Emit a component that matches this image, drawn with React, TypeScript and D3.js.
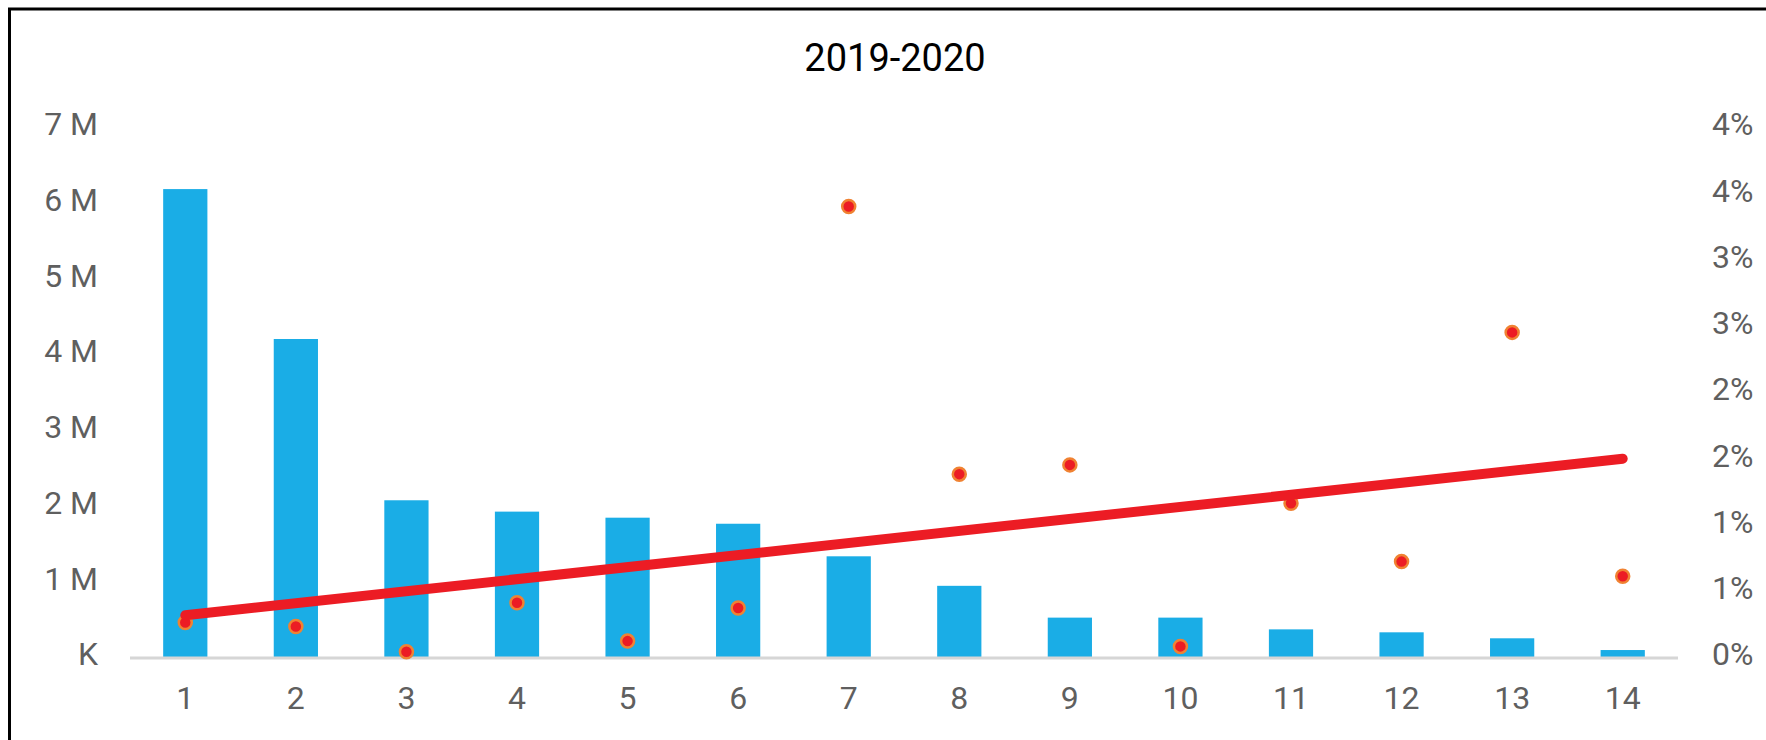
import React from "react";
import * as d3 from "d3";

const categories = ["1", "2", "3", "4", "5", "6", "7", "8", "9", "10", "11", "12", "13", "14"];
const barValues = [6180000, 4200000, 2070000, 1920000, 1840000, 1760000, 1330000, 940000, 520000, 520000, 365000, 326000, 247000, 92000];
const rateValues = [0.0026, 0.0023, 0.0004, 0.0041, 0.0012, 0.0037, 0.034, 0.0138, 0.0145, 0.0008, 0.0116, 0.0072, 0.0245, 0.0061];
const leftTickValues = [0, 1e6, 2e6, 3e6, 4e6, 5e6, 6e6, 7e6];
const leftTickLabels = ["K", "1 M", "2 M", "3 M", "4 M", "5 M", "6 M", "7 M"];
const rightTickValues = [0, 0.005, 0.01, 0.015, 0.02, 0.025, 0.03, 0.035, 0.04];
const rightTickLabels = ["0%", "1%", "1%", "2%", "2%", "3%", "3%", "4%", "4%"];
const title = "2019-2020";

const W = 1766;
const H = 740;
const FONT = "Roboto, 'Noto Sans', sans-serif";
const LABEL = "#5f5f5f";

export default function App() {
  const x = d3
    .scaleBand<string>()
    .domain(categories)
    .range([130, 1678])
    .paddingInner(0.6)
    .paddingOuter(0.3);
  const yL = d3.scaleLinear().domain([0, 7e6]).range([657, 127]);
  const yR = d3.scaleLinear().domain([0, 0.04]).range([657, 127]);
  const cx = (c: string) => (x(c) as number) + x.bandwidth() / 2;

  // linear trend of the rate series
  const idx = categories.map((_, i) => i + 1);
  const mx = d3.mean(idx) as number;
  const my = d3.mean(rateValues) as number;
  const sxy = d3.sum(idx, (v, i) => (v - mx) * (rateValues[i] - my));
  const sxx = d3.sum(idx, (v) => (v - mx) * (v - mx));
  const slope = sxy / sxx;
  const intercept = my - slope * mx;
  const trendPts: [number, number][] = [
    [cx(categories[0]), yR(intercept + slope * idx[0])],
    [cx(categories[categories.length - 1]), yR(intercept + slope * idx[idx.length - 1])],
  ];
  const line = d3.line();

  return (
    <svg
      width={W}
      height={H}
      style={{ position: "fixed", left: 0, top: 0, background: "#fff" }}
    >
      <rect x={0} y={0} width={W} height={H} fill="#fff" />
      {/* frame */}
      <path d={`M9.5,${H + 10} V9 H${W + 10}`} fill="none" stroke="#000" strokeWidth={3} />
      <text x={895} y={71} textAnchor="middle" fontFamily={FONT} fontSize={38} fill="#000">
        {title}
      </text>
      {/* left axis labels */}
      {leftTickValues.map((v, i) => (
        <text
          key={"l" + i}
          x={98}
          y={yL(v)}
          dy="0.26em"
          textAnchor="end"
          fontFamily={FONT}
          fontSize={32}
          fill={LABEL}
        >
          {leftTickLabels[i]}
        </text>
      ))}
      {/* right axis labels */}
      {rightTickValues.map((v, i) => (
        <text
          key={"r" + i}
          x={1712}
          y={yR(v)}
          dy="0.26em"
          textAnchor="start"
          fontFamily={FONT}
          fontSize={32}
          fill={LABEL}
        >
          {rightTickLabels[i]}
        </text>
      ))}
      {/* bars */}
      {categories.map((c, i) => (
        <rect
          key={"b" + c}
          x={x(c)}
          y={yL(barValues[i])}
          width={x.bandwidth()}
          height={yL(0) - yL(barValues[i])}
          fill="#1AADE6"
        />
      ))}
      {/* x axis line */}
      <line x1={130} x2={1678} y1={658} y2={658} stroke="#d6d6d6" strokeWidth={3} />
      {/* x labels */}
      {categories.map((c) => (
        <text
          key={"x" + c}
          x={cx(c)}
          y={709}
          textAnchor="middle"
          fontFamily={FONT}
          fontSize={32}
          fill={LABEL}
        >
          {c}
        </text>
      ))}
      {/* dots */}
      {categories.map((c, i) => (
        <circle
          key={"d" + c}
          cx={cx(c)}
          cy={yR(rateValues[i])}
          r={6.5}
          fill="#EC1C24"
          stroke="#F08232"
          strokeWidth={2.5}
        />
      ))}
      {/* trend line */}
      <path
        d={line(trendPts) as string}
        fill="none"
        stroke="#EC1C24"
        strokeWidth={10}
        strokeLinecap="round"
      />
    </svg>
  );
}
